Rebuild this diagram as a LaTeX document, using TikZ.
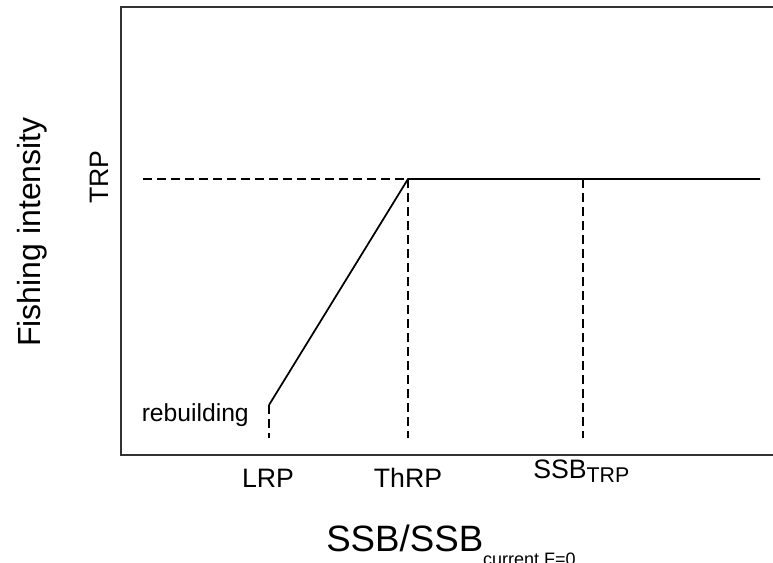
\documentclass[tikz,border=0pt]{standalone}
\usepackage{fontspec}
\setmainfont{Liberation Sans}
\usetikzlibrary{positioning,calc}
\tikzset{
  frame/.style   = { draw=black!80, line width=1.8pt },
  rule/.style    = { draw, line width=1.3pt },
  guide/.style   = { draw, line width=1.3pt, dash pattern=on 7pt off 3.5pt },
  ticklab/.style = { inner sep=0pt, font=\fontsize{20}{24}\selectfont },
  axlab/.style   = { inner sep=0pt, font=\fontsize{24}{29}\selectfont },
  note/.style    = { inner sep=0pt, font=\fontsize{18.5}{22}\selectfont }
}
\begin{document}
\begin{tikzpicture}[x=0.75pt,y=-0.75pt]
    \useasboundingbox (0,0) rectangle (773,562);
    % plot box, open on the right
    \draw[frame] (776,7) -- (121,7) -- (121,455) -- (776,455);

    \coordinate (lrp)     at (269,405);
    \coordinate (thrp)    at (408,179);
    \coordinate (ssbtrp)  at (583,179);
    \coordinate (fend)    at (760,179);
    \coordinate (trpaxis) at (143,179);
    \coordinate (lrpb)    at (269,438);
    \coordinate (thrpb)   at (408,438);
    \coordinate (ssbb)    at (583,438);

    \draw[rule] (lrp) -- (thrp) -- (fend);
    \draw[guide] (trpaxis) -- (thrp);
    \draw[guide] (lrp) -- (lrpb);
    \draw[guide] (thrp) -- (thrpb);
    \draw[guide] (ssbtrp) -- (ssbb);

    \node[note, anchor=base east] (reb) at (249,421) {rebuilding};

    \node[ticklab, anchor=base] (lrplab) at (268,487) {LRP};
    \node[ticklab, anchor=base] (thrplab) at (408,487) {ThRP};
    \node[ticklab, anchor=base west] (ssblab) at (533,478)
      {SSB\raisebox{-3pt}{\fontsize{16}{19}\selectfont TRP}};
    \node[ticklab, rotate=90, anchor=base] (trplab) at (108,177) {TRP};

    \node[axlab, rotate=90, anchor=base] (ylab) at (40,232) {Fishing intensity};
    \node[axlab, anchor=base west, font=\fontsize{27.5}{32}\selectfont] (xlab) at (326,551)
      {SSB/SSB\raisebox{-11pt}{\fontsize{13.5}{16}\selectfont current F=0}};
\end{tikzpicture}
\end{document}
